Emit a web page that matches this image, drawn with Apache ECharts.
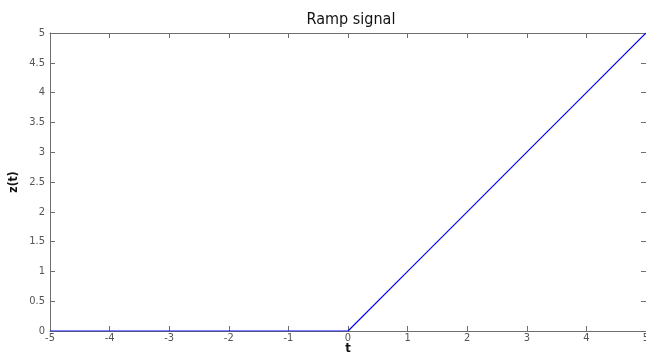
<!DOCTYPE html>
<html>
<head>
<meta charset="utf-8">
<script src="https://cdn.jsdelivr.net/npm/echarts@6/dist/echarts.min.js"></script>
<style>
html, body { margin: 0; padding: 0; background: #fff; }
#chart { width: 646px; height: 356px; }
</style>
</head>
<body>
<div id="chart"></div>
<script>
// ramp signal samples
var tValues = [-5, -4, -3, -2, -1, 0, 1, 2, 3, 4, 5];
var zValues = [0, 0, 0, 0, 0, 0, 1, 2, 3, 4, 5];

var chartTitle = 'Ramp signal';
var xName = 't';
var yName = 'z(t)';

var fontFam = '"Liberation Sans Narrow", "DejaVu Sans Condensed", sans-serif';
var axisCol = '#6e6e6e';
var textCol = '#555';

var points = [];
for (var i = 0; i < tValues.length; i++) {
	points.push([tValues[i], zValues[i]]);
}

function mirrorAxis(pos, min, max, interval) {
	return {
		type: 'value', position: pos, min: min, max: max, interval: interval,
		axisLine: { show: true, onZero: false, lineStyle: { color: axisCol, width: 1 } },
		axisTick: { show: true, inside: true, length: 5, lineStyle: { color: axisCol } },
		axisLabel: { show: false },
		splitLine: { show: false }
	};
}

var chart = echarts.init(document.getElementById('chart'));
chart.setOption({
	animation: false,
	title: {
		text: chartTitle, left: 346, top: 7, textAlign: 'center',
		textStyle: { fontFamily: fontFam, fontSize: 16, fontWeight: 'normal', color: '#111' }
	},
	grid: { left: 50, top: 33, right: 0, bottom: 25, outerBoundsMode: 'none', containLabel: false },
	xAxis: [{
		type: 'value', min: -5, max: 5, interval: 1,
		name: xName, nameLocation: 'middle', nameGap: 11, nameMoveOverlap: false,
		nameTextStyle: { fontFamily: fontFam, fontSize: 13, fontWeight: 'bold', color: '#111' },
		axisLine: { show: true, onZero: false, lineStyle: { color: axisCol, width: 1 } },
		axisTick: { show: true, inside: true, length: 5, lineStyle: { color: axisCol } },
		axisLabel: { fontFamily: fontFam, fontSize: 11, color: textCol, margin: 2, showMaxLabel: true },
		splitLine: { show: false }
	}, mirrorAxis('top', -5, 5, 1)],
	yAxis: [{
		type: 'value', min: 0, max: 5, interval: 0.5,
		name: yName, nameLocation: 'middle', nameGap: 30, nameMoveOverlap: false,
		nameTextStyle: { fontFamily: fontFam, fontSize: 12, fontWeight: 'bold', color: '#111' },
		axisLine: { show: true, onZero: false, lineStyle: { color: axisCol, width: 1 } },
		axisTick: { show: true, inside: true, length: 5, lineStyle: { color: axisCol } },
		axisLabel: { fontFamily: fontFam, fontSize: 11, color: textCol, margin: 5 },
		splitLine: { show: false }
	}, mirrorAxis('right', 0, 5, 0.5)],
	series: [{
		type: 'line',
		data: points,
		showSymbol: false,
		lineStyle: { color: '#0000ff', width: 1.2 },
		itemStyle: { color: '#0000ff' }
	}]
});
</script>
</body>
</html>
